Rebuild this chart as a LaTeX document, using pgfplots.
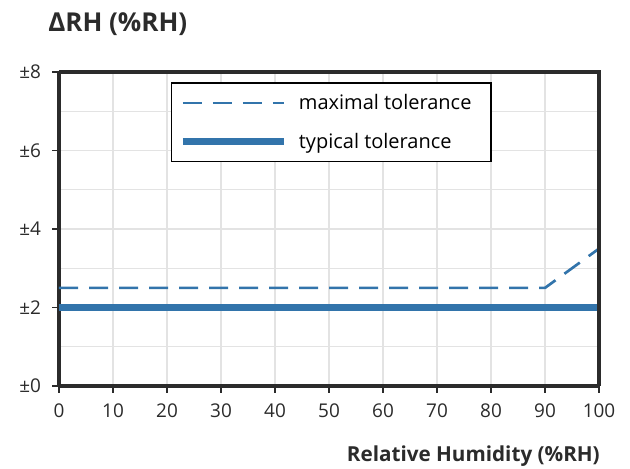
\documentclass[border=0pt]{standalone}
\usepackage{pgfplots}
\pgfplotsset{compat=1.18}
\usepackage{fontspec}
\setmainfont{Open Sans}
\definecolor{lineblue}{HTML}{3274AB}
\definecolor{axisdark}{HTML}{2B2B2B}
\definecolor{gridgray}{HTML}{E3E3E3}
\begin{document}
\begin{tikzpicture}
\begin{axis}[
  scale only axis,
  width=405pt, height=235.5pt,
  xmin=0, xmax=100, ymin=0, ymax=8,
  xtick={0,10,...,100},
  ytick={0,2,4,6,8},
  yticklabels={±0,±2,±4,±6,±8},
  minor ytick={1,3,5,7},
  grid=both,
  major grid style={gridgray, line width=0.9pt},
  minor grid style={gridgray, line width=0.9pt},
  axis line style={axisdark, line width=2.3pt},
  axis x line*=bottom, axis y line*=left,
  tick style={axisdark, line width=0.8pt},
  major tick length=5pt,
  minor tick length=0pt,
  tick align=outside,
  xtick pos=bottom, ytick pos=left,
  /pgf/number format/assume math mode=true,
  ticklabel style={font=\fontsize{14.2}{16}\selectfont, text=axisdark},
  yticklabel style={xshift=-5pt},
  xticklabel style={yshift=-5pt},
  clip=false,
  legend style={at={(0.207,0.967)}, anchor=north west, draw=black, line width=1.2pt,
    font=\fontsize{15}{17}\selectfont, text=black, inner xsep=6pt, inner ysep=6.5pt,
    row sep=12pt, nodes={inner xsep=8.5pt}},
  legend cell align=left,
  legend image code/.code={\draw[#1] (0pt,0pt) -- (76pt,0pt);},
]
\addplot[lineblue, line width=2pt, dash pattern=on 14.25pt off 8.25pt] coordinates {(0,2.5) (90,2.5) (100,3.5)};
\addlegendentry{maximal tolerance}
\addplot[lineblue, line width=5pt] coordinates {(0,2) (100,2)};
\addlegendentry{typical tolerance}
% top and right frame
\draw[axisdark, line width=2.3pt] (rel axis cs:0,1) -- (rel axis cs:1,1) -- (rel axis cs:1,0);
\end{axis}
\node[anchor=base west, inner sep=0pt, font=\bfseries\fontsize{19.5}{22}\selectfont, text=axisdark] at ([xshift=-8.25pt,yshift=30.5pt]current axis.north west) {ΔRH (\%RH)};
\node[anchor=base east, inner sep=0pt, font=\bfseries\fontsize{15.5}{18}\selectfont, text=axisdark] at ([xshift=0.75pt,yshift=-57pt]current axis.south east) {Relative Humidity (\%RH)};
\useasboundingbox ([xshift=-44.25pt,yshift=-62.25pt]current axis.south west) rectangle ([xshift=23.25pt,yshift=54pt]current axis.north east);
\end{tikzpicture}
\end{document}
